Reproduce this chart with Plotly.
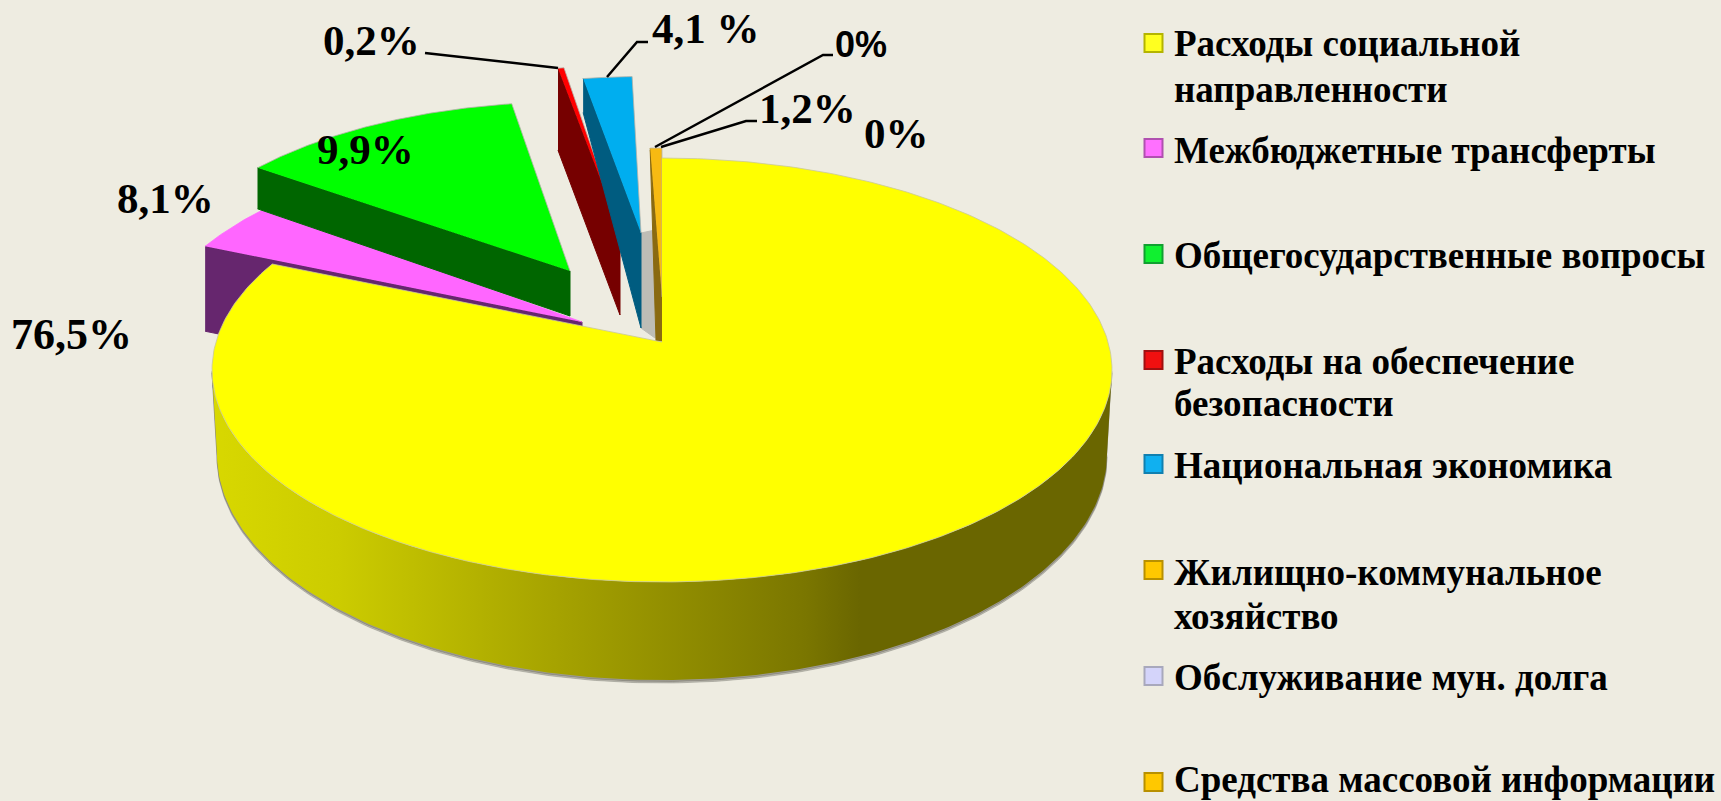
import numpy as np
import plotly.graph_objects as go

# ---------- data ----------
categories = ["Расходы социальной направленности", "Межбюджетные трансферты",
              "Общегосударственные вопросы", "Расходы на обеспечение безопасности",
              "Национальная экономика", "Жилищно-коммунальное хозяйство",
              "Обслуживание мун. долга", "Средства массовой информации"]
# angular extent of each drawn wedge, degrees clockwise from 12 o'clock
slice_start = [0.0, 300.3, 311.7, 351.25, 351.5, 358.2]
slice_end = [300.0, 313.5, 352.0, 352.1, 358.7, 360.0]

# ---------- projection / explosion of the 3-D pie ----------
RX, RY, LIFT = 450, 212, 28
RIM_RX, RIM_RY, RIM_DROP = 445, 226, 112
apex_x = [662, 582, 570, 620, 641, 662]
apex_y = [342, 322, 271, 230, 233, 297]
scale = [1.0, 0.97, 0.93, 0.906, 0.87, 0.835]
depth_tip = [98, 85, 45, 85, 95, 44]
depth_outer = [98, 85, 41, 82, 34, 2]
side_width = [0, 0, 0, 0, 0, 6]
top_colors = ["#FFFF00", "#FF66FF", "#00FF00", "#FF0000", "#00AEEF", "#F7BA12"]
side_colors = ["#A0A000", "#66266E", "#006600", "#760000", "#005C80", "#8A6A10"]
BG = "#EEECE1"


def arc(i, a0, a1, n=160):
    t = np.radians(np.linspace(a0, a1, n))
    return (apex_x[i] + scale[i] * RX * np.sin(t),
            apex_y[i] + LIFT - scale[i] * RY * np.cos(t))


fig = go.Figure()


def poly(x, y, color, edge=None, width=1, **kw):
    fig.add_trace(go.Scatter(x=list(x), y=list(y), mode="lines", fill="toself", fillcolor=color,
                             line=dict(color=edge or color, width=width),
                             hoverinfo="skip", showlegend=False, **kw))


# soft shadow behind the narrow slices
poly([apex_x[4], apex_x[5] - 7, apex_x[5] - 7, apex_x[4]],
     [apex_y[4], apex_y[4] - 3, apex_y[0] - 4, apex_y[4] + depth_tip[4]], "#BEBDB6")

# exploded slices, back to front
for i in [1, 2, 3, 4, 5]:
    ax_, ay_ = arc(i, slice_start[i], slice_end[i])
    d_t, d_o, w = depth_tip[i], depth_outer[i], side_width[i]
    poly([ax_[0], apex_x[i], apex_x[i], apex_x[i] - w, ax_[0]],
         [ay_[0], apex_y[i], apex_y[i] + d_t, apex_y[i] + d_t, ay_[0] + d_o], side_colors[i])
    edge = top_colors[i] if i == 1 else "#B4B3A8"
    poly(list(ax_) + [apex_x[i]], list(ay_) + [apex_y[i]], top_colors[i], edge=edge, width=0.8)

# big yellow slice: shadow, rim with gradient, top face
t_rim = np.radians(np.linspace(90, 270, 200))
top_x, top_y = arc(0, 90, 270, 200)
bot_x = apex_x[0] + RIM_RX * np.sin(t_rim)
bot_y = apex_y[0] + RIM_DROP - RIM_RY * np.cos(t_rim)
rim_x = np.concatenate([bot_x, top_x[::-1]])
rim_y = np.concatenate([bot_y, top_y[::-1]])
poly(rim_x, rim_y + 3, "rgba(110,108,100,0.35)")
poly(rim_x, rim_y + 1.5, "rgba(110,108,100,0.45)")
fig.add_trace(go.Scatter(
    x=rim_x, y=rim_y, mode="lines", fill="toself", line=dict(width=0, color="#A0A000"),
    fillgradient=dict(type="horizontal", colorscale=[
        [0.0, "#D8D800"], [0.14, "#CCCC00"], [0.38, "#A6A300"],
        [0.66, "#7A7600"], [0.72, "#6A6600"], [1.0, "#6A6600"]]),
    hoverinfo="skip", showlegend=False))
tx_, ty_ = arc(0, slice_start[0], slice_end[0], 400)
poly(list(tx_) + [apex_x[0]], list(ty_) + [apex_y[0]], top_colors[0], edge="#C9C89A", width=0.8)

# ---------- leader lines ----------
leaders = [([425, 558], [53, 68]),
           ([648, 637, 607], [42, 42, 77]),
           ([655, 823, 833], [147, 55, 55]),
           ([661, 746, 757], [147, 121, 121])]
for lx, ly in leaders:
    fig.add_trace(go.Scatter(x=lx, y=ly, mode="lines", line=dict(color="black", width=2.5),
                             hoverinfo="skip", showlegend=False))

# ---------- data labels ----------
SERIF = "Liberation Serif"
labels = ["76,5%", "8,1%", "9,9%", "0,2%", "4,1 %", "1,2%", "0%", "0%"]
label_x = [71, 165, 365, 371, 706, 807, 896, 861]
label_y = [334, 198, 149, 40, 28, 108, 133, 44]
label_font = [SERIF, SERIF, SERIF, SERIF, SERIF, SERIF, SERIF, "Liberation Sans"]
label_size = [44, 43, 43, 43, 43, 43, 43, 36]
for t, x, y, f, s in zip(labels, label_x, label_y, label_font, label_size):
    fig.add_annotation(x=x, y=y, text=f"<b>{t}</b>", showarrow=False, xanchor="center", yanchor="middle",
                       font=dict(family=f, size=s, color="black"))

# ---------- legend ----------
legend_lines = [["Расходы социальной", "направленности"], ["Межбюджетные трансферты"],
                ["Общегосударственные вопросы"], ["Расходы на обеспечение", "безопасности"],
                ["Национальная экономика"], ["Жилищно-коммунальное", "хозяйство"],
                ["Обслуживание мун. долга"], ["Средства массовой информации"]]
legend_y = [[43, 89], [150], [255], [361, 403], [465], [572, 616], [677], [779]]
swatch_y = [43, 148, 254, 360, 464, 570, 676, 782]
swatch_fill = ["#FFFF20", "#FF70FF", "#10F030", "#F01010", "#10B0F0", "#FFC800", "#D4D4FA", "#FFC800"]
swatch_edge = ["#B4B400", "#B050B0", "#10A030", "#A01010", "#1080B0", "#B89000", "#A8A8BC", "#B89000"]
for yy, fc, ec, lines, ys in zip(swatch_y, swatch_fill, swatch_edge, legend_lines, legend_y):
    fig.add_trace(go.Scatter(x=[1153.5], y=[yy], mode="markers", hoverinfo="skip", showlegend=False,
                             marker=dict(symbol="square", size=18, color=fc,
                                         line=dict(color=ec, width=2))))
    for t, y in zip(lines, ys):
        fig.add_annotation(x=1172, y=y, text=f"<b>{t}</b>", showarrow=False, xanchor="left", yanchor="middle",
                           font=dict(family=SERIF, size=37, color="black"))

fig.update_layout(width=1721, height=801, margin=dict(l=0, r=0, t=0, b=0),
                  paper_bgcolor=BG, plot_bgcolor=BG, showlegend=False,
                  xaxis=dict(range=[0, 1721], visible=False, fixedrange=True),
                  yaxis=dict(range=[801, 0], visible=False, fixedrange=True))
fig.write_html("out.html", post_script="document.body.style.margin='0';document.body.style.background='%s';" % BG,
               config={"displayModeBar": False})
